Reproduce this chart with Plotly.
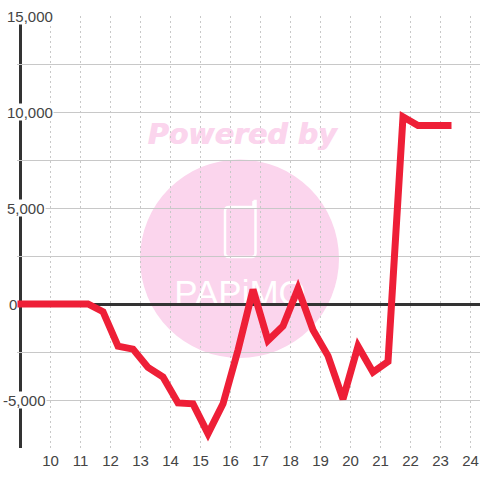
import plotly.graph_objects as go

hours = [9, 9.25, 9.75, 10.25, 10.75, 11.25, 11.75, 12.25, 12.75, 13.25, 13.75, 14.25, 14.75,
         15.25, 15.75, 16.25, 16.75, 17.25, 17.75, 18.25, 18.75, 19.25, 19.75, 20.25, 20.75,
         21.25, 21.75, 22.25, 22.75, 23.25]
values = [0, 0, 0, 0, 0, 0, -400, -2200, -2350, -3300, -3800, -5150, -5200,
          -6750, -5200, -2400, 750, -1900, -1150, 800, -1350, -2700, -4950, -2200, -3550,
          -3000, 9750, 9300, 9300, 9300]
x_ticks = list(range(10, 25))
y_grid = [15000, 12500, 10000, 7500, 5000, 2500, 0, -2500, -5000, -7500]
y_labels = {15000: "15,000", 10000: "10,000", 5000: "5,000", 0: "0", -5000: "-5,000"}
y_label_left = {15000: 6, 10000: 6, 5000: 6, 0: 8, -5000: 2}

L, T, W, H = 17, 16, 463, 432
RED, PINK, DARK, GRID, TEXT = "#EE1F37", "#FBD5ED", "#333333", "#C8C8C8", "#444444"
X_MIN = 9 - 3.5 / 30
X_MAX = X_MIN + W / 30


def px(X):
    return (X - L) / W


def py(Y):
    return (T + H - Y) / H


def path(cmds):
    out = []
    for c in cmds:
        if len(c) == 3:
            out.append(f"{c[0]}{px(c[1])},{py(c[2])}")
        else:
            out.append(f"Q{px(c[1])},{py(c[2])} {px(c[3])},{py(c[4])}")
    return " ".join(out)


fig = go.Figure(go.Scatter(x=hours, y=values, mode="lines",
                           line=dict(color=RED, width=7), hoverinfo="skip"))

shapes = [
    dict(type="circle", xref="paper", yref="paper", layer="below",
         x0=px(140), x1=px(339), y0=py(358), y1=py(159.5), fillcolor=PINK, line_width=0),
    dict(type="path", xref="paper", yref="paper", layer="below",
         path=path([("M", 253.5, 201), ("L", 255.5, 201), ("L", 255.5, 253),
                    ("Q", 255.5, 257, 251.5, 257), ("L", 229, 257),
                    ("Q", 225, 257, 225, 253), ("L", 225, 211),
                    ("Q", 225, 207, 229, 207), ("L", 253.5, 207), ("L", 253.5, 201)]),
         line=dict(color="white", width=2.5)),
    dict(type="rect", xref="paper", yref="paper", layer="below",
         x0=px(140), x1=px(344), y0=py(148), y1=py(116), line_width=0,
         fillcolor="rgba(0,0,0,0)",
         label=dict(text="Powered by", textposition="middle center",
                    font=dict(family="DejaVu Sans", size=28.5, color=PINK,
                              weight="bold", style="italic", shadow=f"0.8px 0 0 {PINK}"))),
    dict(type="rect", xref="paper", yref="paper", layer="below",
         x0=px(140), x1=px(340), y0=py(304), y1=py(274), line_width=0,
         fillcolor="rgba(0,0,0,0)",
         label=dict(text="PAPiMO", textposition="middle center",
                    font=dict(family="Liberation Sans", size=35, color="white"))),
    dict(type="rect", xref="paper", yref="paper", layer="between",
         x0=0, x1=px(19.5), y0=0, y1=1, fillcolor="white", line_width=0),
    dict(type="line", xref="x", yref="paper", layer="between",
         x0=9, x1=9, y0=0, y1=1, line=dict(color=DARK, width=3)),
]

annotations = [
    dict(xref="paper", yref="y", x=0, y=v, text=t, showarrow=False, xanchor="left",
         xshift=y_label_left[v] - L, height=16, borderpad=0, bgcolor="white",
         font=dict(family="Liberation Sans", size=15, color=TEXT))
    for v, t in y_labels.items()
]

fig.update_layout(
    width=480, height=480, showlegend=False,
    margin=dict(l=L, r=0, t=T, b=32, pad=0),
    paper_bgcolor="white", plot_bgcolor="rgba(0,0,0,0)",
    shapes=shapes, annotations=annotations,
    xaxis=dict(range=[X_MIN, X_MAX], tickmode="array", tickvals=x_ticks,
               ticktext=[str(v) for v in x_ticks], showgrid=True, gridcolor=GRID, gridwidth=1,
               griddash="2px,3px", zeroline=False, showline=False, ticks="",
               ticklabelstandoff=2,
               tickfont=dict(family="Liberation Sans", size=15, color=TEXT)),
    yaxis=dict(range=[-7500, 15000], tickmode="array", tickvals=y_grid, showticklabels=False,
               showgrid=True, gridcolor=GRID, gridwidth=1, zeroline=True, zerolinecolor=DARK,
               zerolinewidth=3, showline=False, ticks=""),
)

post = """
document.body.style.margin='0';
var p=document.querySelectorAll('.scatterlayer .js-line');
p.forEach(function(e){e.style.strokeLinecap='square';e.style.strokeLinejoin='miter';e.style.strokeMiterlimit='3';});
"""
fig.write_html("out.html", post_script=post, config={"displayModeBar": False})
